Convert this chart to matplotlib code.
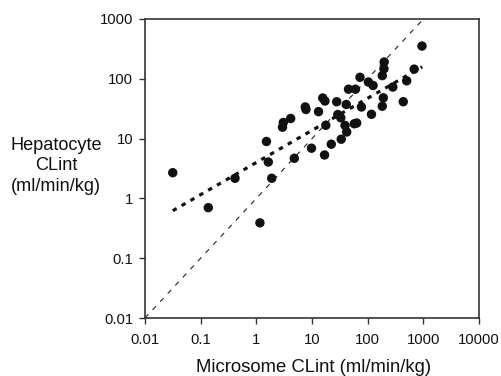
import matplotlib
matplotlib.use("Agg")
import matplotlib.pyplot as plt
import numpy as np

plt.rcParams['font.family'] = ['Liberation Sans', 'DejaVu Sans']

# Data (Microsome CLint vs Hepatocyte CLint, ml/min/kg)
microsome = [0.0315, 0.137, 0.414, 1.16, 1.52, 1.64, 1.89, 3.05, 2.95, 4.14,
             4.81, 7.57, 7.80, 9.79, 13.1, 15.6, 17.1, 16.8, 17.7, 22.2,
             27.8, 29.0, 32.9, 33.5, 39.2, 41.3, 42.0, 45.3, 60.4, 57.5,
             63.5, 72.8, 77.4, 103, 125, 117, 183, 191, 183, 196,
             198, 283, 436, 502, 685, 946]
hepatocyte = [2.69, 0.70, 2.17, 0.39, 8.95, 4.06, 2.17, 18.6, 15.5, 21.7,
              4.69, 33.8, 30.7, 6.91, 28.2, 47.7, 42.5, 5.32, 16.7, 8.06,
              41.3, 25.3, 22.3, 9.77, 16.6, 37.2, 12.9, 67.0, 67.0, 17.7,
              18.2, 106, 33.8, 88.4, 77.3, 25.5, 34.8, 48.1, 113, 147,
              191, 72.9, 41.4, 92.6, 145, 353]

# Regression (trend) line end values
trend_x = [0.0315, 957]
trend_y = [0.622, 159]

# Line of unity
unity = [0.01, 1000]

x_ticks = [0.01, 0.1, 1, 10, 100, 1000, 10000]
x_ticklabels = ['0.01', '0.1', '1', '10', '100', '1000', '10000']
y_ticks = [0.01, 0.1, 1, 10, 100, 1000]
y_ticklabels = ['0.01', '0.1', '1', '10', '100', '1000']

fig = plt.figure(figsize=(5.01, 3.76), dpi=100)
ax = fig.add_axes([145/501, 1-318/376, (479-145)/501, (318-19)/376])

ax.set_xscale('log')
ax.set_yscale('log')
ax.set_xlim(0.01, 10000)
ax.set_ylim(0.01, 1000)

ax.plot(unity, unity, color='#222222', lw=0.8, linestyle=(0, (4.5, 5.5)), zorder=1)
ax.plot(trend_x, trend_y, color='#111111', lw=2.3, linestyle=(0, (1.4, 1.8)), zorder=2)
ax.scatter(microsome, hepatocyte, s=46, color='#111111', edgecolors='none', zorder=3)

ax.set_xticks(x_ticks)
ax.set_xticklabels(x_ticklabels)
ax.set_yticks(y_ticks)
ax.set_yticklabels(y_ticklabels)
ax.minorticks_off()
ax.tick_params(axis='both', which='major', direction='out', length=4, width=1,
               color='#333333', labelsize=10.7, labelcolor='#111111')
ax.tick_params(axis='x', pad=7)
ax.tick_params(axis='y', pad=4.5)
ax.tick_params(top=False, right=False)

for s in ax.spines.values():
    s.set_color('#333333')
    s.set_linewidth(1.2)

ax.set_xlabel('Microsome CLint (ml/min/kg)', fontsize=13.3, color='#111111', va='center')
ax.xaxis.set_label_coords(0.505, -(367-318)/299)
fig.text(56/501, 1-166/376, 'Hepatocyte\nCLint\n(ml/min/kg)', ha='center', va='center',
         fontsize=13.1, color='#111111', linespacing=1.25)

fig.savefig('out.png', dpi=100)
